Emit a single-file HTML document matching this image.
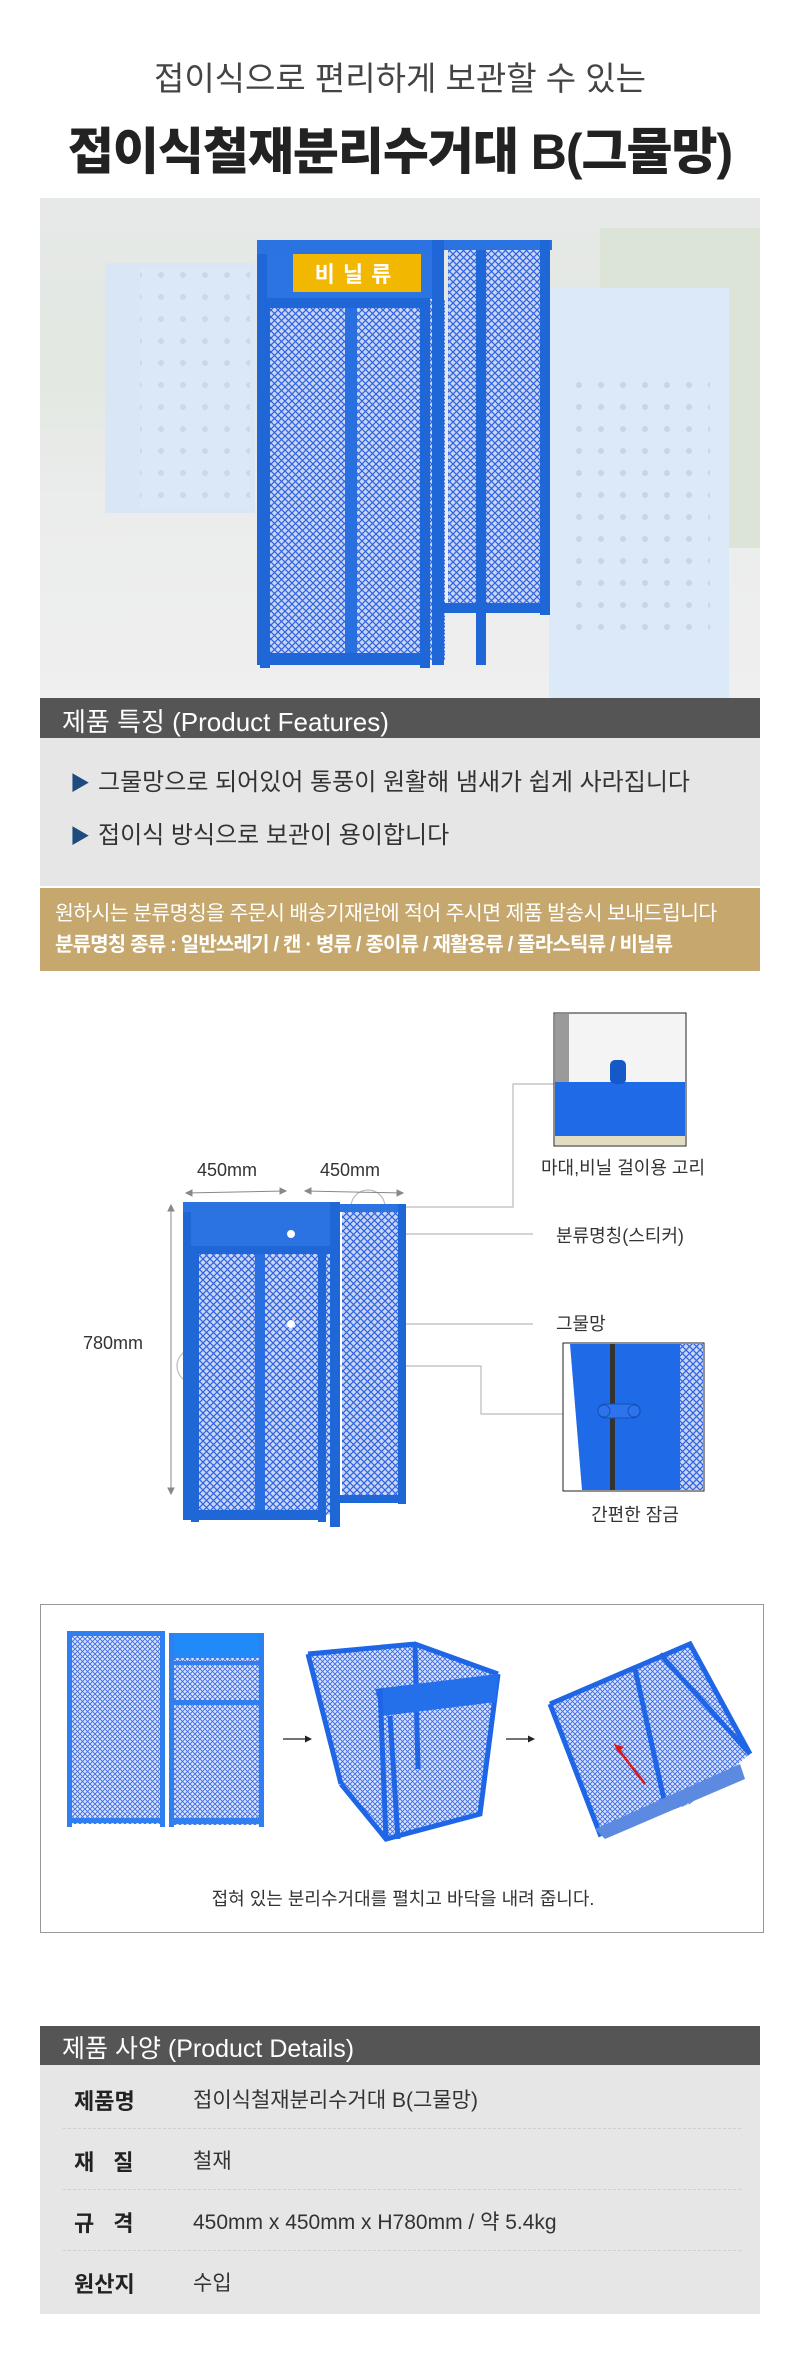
<!DOCTYPE html>
<html><head><meta charset="utf-8">
<style>
*{margin:0;padding:0;box-sizing:border-box}
body{width:800px;height:2362px;background:#fff;position:relative;overflow:hidden;font-family:"Liberation Sans","Noto Sans CJK KR",sans-serif;color:#333}
.a{position:absolute;white-space:nowrap}
</style></head><body>
<svg width="0" height="0" style="position:absolute">
<defs>
<pattern id="mesh" width="7" height="7" patternUnits="userSpaceOnUse">
<rect width="7" height="7" fill="#c9d6f5"/>
<path d="M0 0L7 7M7 0L0 7" stroke="#2d62e0" stroke-width="1.2"/>
</pattern>
<pattern id="mesh2" width="5" height="5" patternUnits="userSpaceOnUse">
<rect width="5" height="5" fill="#dbe4fa"/>
<path d="M0 0L5 5M5 0L0 5" stroke="#3a6ae6" stroke-width="0.9"/>
</pattern>
<pattern id="dots" width="22" height="22" patternUnits="userSpaceOnUse">
<rect width="22" height="22" fill="#dce9f8"/>
<circle cx="11" cy="11" r="3" fill="#c5d6ea"/>
</pattern>
</defs>
</svg>

<div class="a" style="left:0;width:800px;top:52px;text-align:center;font-size:33px;color:#444">접이식으로 편리하게 보관할 수 있는</div>
<div class="a" style="left:0;width:800px;top:112px;text-align:center;font-size:50px;font-weight:900;color:#222;letter-spacing:-1px">접이식철재분리수거대 B(그물망)</div>

<!-- photo -->
<svg class="a" style="left:40px;top:198px" width="720" height="500">
<defs><linearGradient id="bg" x1="0" y1="0" x2="0" y2="1">
<stop offset="0" stop-color="#e6e9e8"/><stop offset="0.35" stop-color="#e3e8e1"/><stop offset="0.6" stop-color="#ebecec"/><stop offset="1" stop-color="#efefef"/></linearGradient></defs>
<rect width="720" height="500" fill="url(#bg)"/>
<rect x="560" y="30" width="160" height="320" fill="#dbe4d7"/>
<rect x="65" y="65" width="150" height="250" fill="#d9e6f6"/>
<rect x="100" y="70" width="110" height="240" fill="url(#dots)" opacity="0.8"/>
<rect x="509" y="90" width="180" height="410" fill="#dce9f8"/>
<rect x="520" y="180" width="150" height="260" fill="url(#dots)"/>
<!-- cabinet -->
<rect x="217" y="42" width="10" height="425" fill="#1f66d6"/>
<rect x="217" y="42" width="175" height="14" fill="#2a73e0"/>
<rect x="227" y="56" width="165" height="45" fill="#2b74e2"/>
<rect x="253" y="56" width="128" height="38" fill="#f2b700"/>
<text x="317" y="84" text-anchor="middle" font-size="22" font-weight="700" fill="#fff" letter-spacing="8">비닐류</text>
<rect x="225" y="102" width="180" height="360" fill="url(#mesh)"/>
<rect x="220" y="100" width="170" height="10" fill="#1f66d6"/>
<rect x="220" y="110" width="10" height="360" fill="#1f66d6"/>
<rect x="380" y="110" width="10" height="360" fill="#1f66d6"/>
<rect x="220" y="455" width="170" height="12" fill="#1f66d6"/>
<rect x="305" y="110" width="12" height="345" fill="#2a6fe0"/>
<rect x="392" y="42" width="12" height="425" fill="#1f66d6"/>
<rect x="404" y="42" width="108" height="10" fill="#2a73e0"/>
<rect x="408" y="52" width="98" height="360" fill="url(#mesh)"/>
<rect x="436" y="52" width="10" height="415" fill="#1f66d6"/>
<rect x="500" y="42" width="10" height="375" fill="#1f66d6"/>
<rect x="404" y="405" width="106" height="10" fill="#1f66d6"/>
</svg>

<div class="a" style="left:40px;top:698px;width:720px;height:40px;background:#555"></div>
<div class="a" style="left:62px;top:702px;font-size:26px;color:#fff">제품 특징 (Product Features)</div>
<div class="a" style="left:40px;top:738px;width:720px;height:148px;background:#e6e6e6"></div>
<div class="a" style="left:70px;top:762px;font-size:24px;color:#333"><span style="color:#1d4b7e;font-size:20px;margin-right:8px">▶</span>그물망으로 되어있어 통풍이 원활해 냄새가 쉽게 사라집니다</div>
<div class="a" style="left:70px;top:815px;font-size:24px;color:#333"><span style="color:#1d4b7e;font-size:20px;margin-right:8px">▶</span>접이식 방식으로 보관이 용이합니다</div>
<div class="a" style="left:40px;top:888px;width:720px;height:83px;background:#c6a86f"></div>
<div class="a" style="left:55px;top:896px;font-size:20.5px;color:#fff;letter-spacing:-0.6px">원하시는 분류명칭을 주문시 배송기재란에 적어 주시면 제품 발송시 보내드립니다</div>
<div class="a" style="left:55px;top:928px;font-size:20px;color:#fff;font-weight:700;letter-spacing:-0.8px">분류명칭 종류 : 일반쓰레기 / 캔 · 병류 / 종이류 / 재활용류 / 플라스틱류 / 비닐류</div>

<!-- diagram -->
<svg class="a" style="left:0;top:1000px" width="800" height="540">
<g stroke="#bbb" stroke-width="1.2" fill="none">
<path d="M554 84H513V207H385"/>
<path d="M291 234H533"/>
<path d="M291 324H533"/>
<path d="M200 366H481V414H563"/>
<circle cx="368" cy="207" r="17"/>
<circle cx="194" cy="366" r="17"/>
</g>
<g stroke="#888" stroke-width="1" fill="#888">
<path d="M186 193L286 191"/><path d="M305 191L403 193"/>
<path d="M171 205V494"/>
<path d="M186 193l6-3v6z M286 191l-6-3v6z M305 191l6-3v6z M403 193l-6-3v6z M171 205l-3 6h6z M171 494l-3-6h6z"/>
</g>
<rect x="183" y="202" width="8" height="318" fill="#1f66d6"/>
<rect x="183" y="202" width="152" height="10" fill="#2a73e0"/>
<rect x="191" y="212" width="144" height="36" fill="#2a73e0"/>
<rect x="195" y="250" width="140" height="265" fill="url(#mesh)"/>
<rect x="191" y="246" width="144" height="8" fill="#1f66d6"/>
<rect x="191" y="254" width="8" height="268" fill="#1f66d6"/>
<rect x="318" y="254" width="8" height="268" fill="#1f66d6"/>
<rect x="191" y="510" width="135" height="10" fill="#1f66d6"/>
<rect x="255" y="254" width="10" height="256" fill="#2a6fe0"/>
<rect x="330" y="202" width="10" height="325" fill="#1f66d6"/>
<rect x="340" y="204" width="66" height="8" fill="#2a73e0"/>
<rect x="342" y="212" width="60" height="285" fill="url(#mesh)"/>
<rect x="398" y="204" width="8" height="300" fill="#1f66d6"/>
<rect x="340" y="495" width="66" height="8" fill="#1f66d6"/>
<circle cx="291" cy="234" r="4" fill="#fff"/><circle cx="291" cy="324" r="4" fill="#fff"/>
<rect x="554" y="13" width="132" height="133" fill="#f4f4f4" stroke="#222" stroke-width="1"/>
<rect x="555" y="14" width="14" height="70" fill="#9a9a9a"/>
<rect x="555" y="82" width="130" height="58" fill="#1f6ae6"/>
<rect x="610" y="60" width="16" height="24" rx="5" fill="#1558c8"/>
<rect x="555" y="136" width="130" height="9" fill="#e2dcc0"/>
<rect x="563" y="343" width="141" height="148" fill="#fff" stroke="#222" stroke-width="1"/>
<path d="M570 344H700V490H582Z" fill="#1f6ae6"/>
<rect x="610" y="344" width="5" height="146" fill="#333"/>
<rect x="680" y="344" width="23" height="146" fill="url(#mesh)"/>
<rect x="598" y="404" width="42" height="14" rx="7" fill="#2d74ec" stroke="#1550b8"/>
<circle cx="604" cy="411" r="6" fill="#2d74ec" stroke="#1550b8"/><circle cx="634" cy="411" r="6" fill="#2d74ec" stroke="#1550b8"/>
</svg>
<div class="a" style="left:197px;top:1160px;font-size:18px;color:#333">450mm</div>
<div class="a" style="left:320px;top:1160px;font-size:18px;color:#333">450mm</div>
<div class="a" style="left:83px;top:1333px;font-size:18px;color:#333">780mm</div>
<div class="a" style="left:520px;top:1154px;width:206px;text-align:center;font-size:18px;color:#333">마대,비닐 걸이용 고리</div>
<div class="a" style="left:556px;top:1222px;font-size:18px;color:#333">분류명칭(스티커)</div>
<div class="a" style="left:556px;top:1310px;font-size:18px;color:#333">그물망</div>
<div class="a" style="left:560px;top:1501px;width:150px;text-align:center;font-size:18px;color:#333">간편한 잠금</div>

<!-- fold box -->
<div class="a" style="left:40px;top:1604px;width:724px;height:329px;border:1.5px solid #999;background:#fff"></div>
<svg class="a" style="left:40px;top:1604px" width="724" height="329">
<rect x="27" y="27" width="98" height="193" fill="url(#mesh2)"/>
<rect x="27" y="27" width="98" height="5" fill="#2f7ff0"/>
<rect x="27" y="27" width="5" height="196" fill="#2f7ff0"/>
<rect x="120" y="27" width="5" height="196" fill="#2f7ff0"/>
<rect x="27" y="214" width="98" height="5" fill="#2f7ff0"/>
<rect x="129" y="29" width="95" height="192" fill="url(#mesh2)"/>
<rect x="129" y="29" width="95" height="25" fill="#1f8af8"/>
<rect x="129" y="29" width="5" height="194" fill="#2f7ff0"/>
<rect x="219" y="29" width="5" height="194" fill="#2f7ff0"/>
<rect x="134" y="57" width="85" height="4" fill="#2f7ff0"/>
<rect x="134" y="96" width="85" height="5" fill="#2f7ff0"/>
<rect x="129" y="214" width="95" height="6" fill="#2f7ff0"/>
<path d="M243 135H270" stroke="#222" stroke-width="1.3"/><path d="M272 135l-7-3.5v7z" fill="#222"/>
<path d="M466 135H493" stroke="#222" stroke-width="1.3"/><path d="M495 135l-7-3.5v7z" fill="#222"/>
<g transform="translate(40,0)">
<path d="M228 50L335 40L418 70L400 210L306 235L261 180Z" fill="url(#mesh2)"/>
<path d="M228 50L335 40L418 70M228 50L261 180M335 40L338 165M418 70L400 210L306 235L261 180" stroke="#1e66e6" stroke-width="5" fill="none"/>
<path d="M295 85L418 70L416 98L302 112Z" fill="#2370ea"/>
<path d="M300 85L306 236M310 112L318 235" stroke="#1e66e6" stroke-width="5"/>
</g>
<path d="M510 100L650 40L710 150L650 200L560 230Z" fill="url(#mesh2)"/>
<path d="M510 100L650 40L710 150M510 100L560 230L700 165M595 65L625 200M620 50L710 150" stroke="#1e66e6" stroke-width="5" fill="none"/>
<path d="M555 225L700 160L705 175L565 235Z" fill="#5b8ae0"/>
<path d="M605 180L578 145" stroke="#e01818" stroke-width="2.5"/><path d="M574 140l10 3-6 6z" fill="#e01818"/>
</svg>
<div class="a" style="left:0;width:806px;top:1885px;text-align:center;font-size:18px;color:#333">접혀 있는 분리수거대를 펼치고 바닥을 내려 줍니다.</div>

<!-- specs -->
<div class="a" style="left:40px;top:2026px;width:720px;height:39px;background:#555"></div>
<div class="a" style="left:62px;top:2029px;font-size:25px;color:#fff">제품 사양 (Product Details)</div>
<div class="a" style="left:40px;top:2065px;width:720px;height:249px;background:#e6e6e6"></div>
<div class="a" style="left:63px;top:2128px;width:678px;border-top:1px dashed #d0d0d0"></div>
<div class="a" style="left:63px;top:2189px;width:678px;border-top:1px dashed #d0d0d0"></div>
<div class="a" style="left:63px;top:2250px;width:678px;border-top:1px dashed #d0d0d0"></div>
<div class="a" style="left:74px;top:2084px;font-size:22px;font-weight:700;color:#222">제품명</div>
<div class="a" style="left:74px;top:2145px;font-size:22px;font-weight:700;color:#222;letter-spacing:19px">재질</div>
<div class="a" style="left:74px;top:2206px;font-size:22px;font-weight:700;color:#222;letter-spacing:19px">규격</div>
<div class="a" style="left:74px;top:2267px;font-size:22px;font-weight:700;color:#222">원산지</div>
<div class="a" style="left:193px;top:2084px;font-size:21px;color:#333">접이식철재분리수거대 B(그물망)</div>
<div class="a" style="left:193px;top:2145px;font-size:21px;color:#333">철재</div>
<div class="a" style="left:193px;top:2206px;font-size:21px;color:#333">450mm x 450mm x H780mm / 약 5.4kg</div>
<div class="a" style="left:193px;top:2267px;font-size:21px;color:#333">수입</div>
</body></html>
